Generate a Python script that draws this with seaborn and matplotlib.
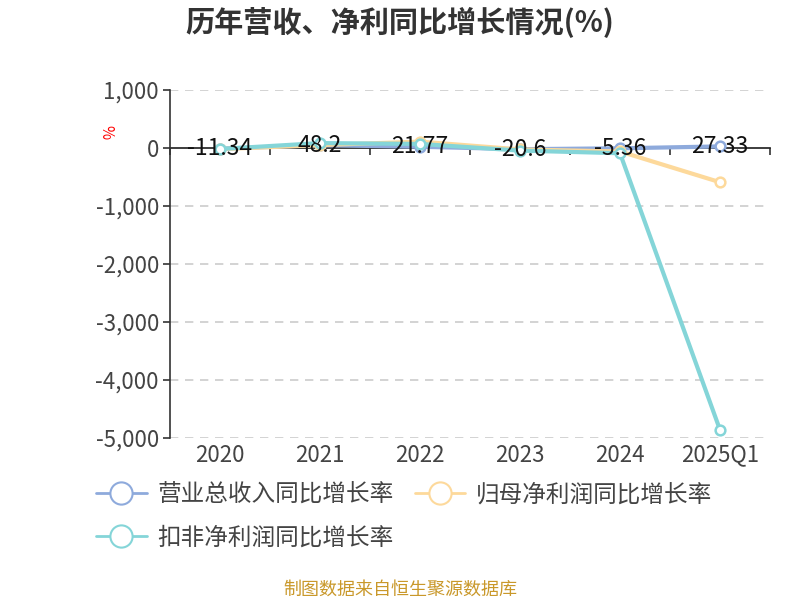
import matplotlib
matplotlib.use("Agg")
import matplotlib.pyplot as plt
import seaborn as sns
import pandas as pd
from matplotlib.lines import Line2D
from matplotlib.ticker import FuncFormatter

categories = ["2020", "2021", "2022", "2023", "2024", "2025Q1"]
revenue_growth = [-11.34, 48.2, 21.77, -20.6, -5.36, 27.33]
parent_profit_growth = [-20, 50, 110, -25, -60, -590]
deducted_profit_growth = [-17, 85, 70, -45, -90, -4860]
series_names = ["营业总收入同比增长率", "归母净利润同比增长率", "扣非净利润同比增长率"]
colors = ["#8eaadc", "#fdd99b", "#84d5d8"]

sns.set_theme(style="white")
plt.rcParams['font.family'] = ['Noto Sans CJK SC', 'DejaVu Sans']

series_values = [revenue_growth, parent_profit_growth, deducted_profit_growth]

fig = plt.figure(figsize=(8, 6), dpi=100)
ax = fig.add_axes([0.2125, 0.27, 0.75, 0.58])

# grid
for yv in [1000, -1000, -2000, -3000, -4000, -5000]:
    ax.axhline(yv, color="#cccccc", lw=1.2, ls=(0, (5, 4)), zorder=0)

for name, vals, c in zip(series_names, series_values, colors):
    d = pd.DataFrame({"x": list(range(len(categories))), "v": vals})
    sns.lineplot(data=d, x="x", y="v", color=c, ax=ax, lw=3, sort=False,
                 legend=False, zorder=3)
    ln = ax.get_lines()[-1]
    ln.set_marker("o")
    ln.set_markersize(7)
    ln.set_markerfacecolor("white")
    ln.set_markeredgecolor(c)
    ln.set_markeredgewidth(1.8)

for i, v in enumerate(revenue_growth):
    ax.text(i, v, f"{v:g}", ha="center", va="center", fontsize=16.5,
            color="#111111", zorder=5)

ax.set_xlim(-0.5, 5.5)
ax.set_ylim(-5000, 1000)
ax.set_yticks([1000, 0, -1000, -2000, -3000, -4000, -5000])
ax.yaxis.set_major_formatter(FuncFormatter(lambda v, p: f"{int(v):,}"))
ax.tick_params(axis="y", direction="out", length=5, width=1.2, color="#333333",
               labelsize=16, labelcolor="#444444", pad=3, left=True)
ax.set_xticks(range(len(categories)))
ax.set_xticklabels(categories)
ax.tick_params(axis="x", length=0, labelsize=16, labelcolor="#444444", pad=4)
ax.set_xlabel("")
ax.set_ylabel("")
for s in ["top", "right", "bottom"]:
    ax.spines[s].set_visible(False)
ax.spines["left"].set_color("#333333")
ax.spines["left"].set_linewidth(1.2)

# zero axis with boundary ticks
sec = ax.secondary_xaxis(5 / 6)
sec.set_xticks([i - 0.5 for i in range(len(categories) + 1)])
sec.set_xticklabels([])
sec.tick_params(axis="x", direction="out", length=5, width=1.2, color="#333333")
sec.spines["bottom"].set_color("#333333")
sec.spines["bottom"].set_linewidth(1.2)
sec.xaxis.set_ticks_position("bottom")

fig.text(0.132, 0.78, "%", color="red", fontsize=11, rotation=-90,
         ha="center", va="center")

fig.text(0.5, 0.963, "历年营收、净利同比增长情况(%)", ha="center", va="center",
         fontsize=21, fontweight="bold", color="#333333")

order = [0, 2, 1]
handles = [Line2D([0], [0], color=colors[k], lw=2, marker="o", markersize=16,
                  markerfacecolor="white", markeredgewidth=1.5,
                  markeredgecolor=colors[k]) for k in order]
labels = [series_names[k] for k in order]
fig.legend(handles, labels, loc="upper left", bbox_to_anchor=(0.108, 0.21),
           ncol=2, frameon=False, fontsize=17, handlelength=2.15,
           handletextpad=0.45, columnspacing=0.9, labelspacing=0.85,
           labelcolor="#444444", borderaxespad=0)

fig.text(0.5, 0.017, "制图数据来自恒生聚源数据库", ha="center", va="center",
         fontsize=13, color="#c9982a")

fig.savefig("out.png", dpi=100)
